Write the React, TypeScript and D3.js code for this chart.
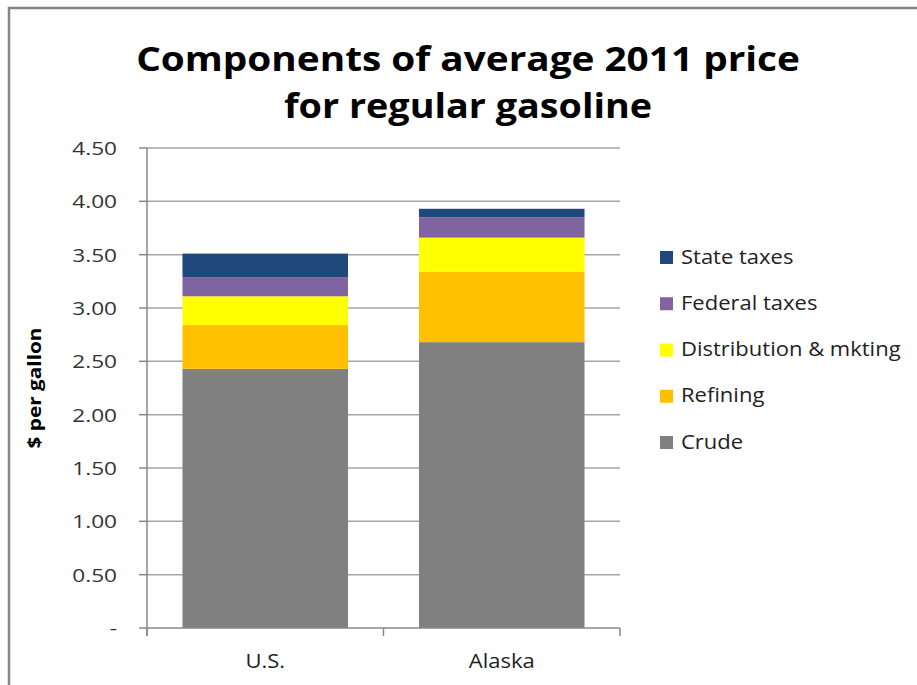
import React from "react";
import * as d3 from "d3";

const categories = ["U.S.", "Alaska"];
const seriesNames = ["Crude", "Refining", "Distribution & mkting", "Federal taxes", "State taxes"];
const crude = [2.43, 2.68];
const refining = [0.41, 0.66];
const distribution = [0.27, 0.32];
const federal = [0.18, 0.19];
const state = [0.22, 0.08];
const yTicks = [0, 0.5, 1, 1.5, 2, 2.5, 3, 3.5, 4, 4.5];
const colors = ["#808080", "#FFC000", "#FFFF00", "#8064A2", "#1F497D"];

export default function App() {
  const W = 917, H = 685;
  const left = 147, right = 620, top = 148, bottom = 628;
  const y = d3.scaleLinear().domain([0, 4.5]).range([bottom, top]);
  const x = d3.scaleBand().domain(categories).range([left, right]).paddingInner(0.3).paddingOuter(0.15);
  const band = d3.scaleBand().domain(categories).range([left, right]);
  const rows = categories.map((c, i) => ({
    cat: c,
    Crude: crude[i],
    Refining: refining[i],
    "Distribution & mkting": distribution[i],
    "Federal taxes": federal[i],
    "State taxes": state[i],
  }));
  const stack = d3.stack<any>().keys(seriesNames)(rows);
  const font = "Open Sans, Lato, sans-serif";
  const legendOrder = [...seriesNames].reverse();
  return (
    <svg width={W} height={H} style={{ position: "absolute", left: 0, top: 0 }} fontFamily={font}>
      <rect x={0} y={0} width={W} height={H} fill="#fff" />
      <path d={`M9,${H} V8 H${W}`} fill="none" stroke="#868686" strokeWidth={2.5} />
      <text transform="translate(468,71) scale(1.14,1)" textAnchor="middle" fontSize={34} fontWeight="bold" fill="#000">
        Components of average 2011 price
      </text>
      <text transform="translate(468,118) scale(1.11,1)" textAnchor="middle" fontSize={34} fontWeight="bold" fill="#000">
        for regular gasoline
      </text>
      {yTicks.map((t) => (
        <g key={t}>
          {t > 0 && <line x1={left} x2={right} y1={y(t)} y2={y(t)} stroke="#a6a6a6" strokeWidth={1.5} />}
          <line x1={left - 8} x2={left} y1={y(t)} y2={y(t)} stroke="#888" strokeWidth={1.5} />
          <text transform={`translate(117,${y(t) + 7}) scale(1.19,1)`} textAnchor="end" fontSize={19} fill="#333">
            {t === 0 ? "-" : d3.format(".2f")(t)}
          </text>
        </g>
      ))}
      {stack.map((s, si) =>
        s.map((d, di) => (
          <rect
            key={si + "-" + di}
            x={x(categories[di])}
            width={x.bandwidth()}
            y={y(d[1])}
            height={y(d[0]) - y(d[1])}
            fill={colors[si]}
          />
        ))
      )}
      <line x1={left} x2={left} y1={top} y2={bottom + 8} stroke="#888" strokeWidth={1.5} />
      <line x1={left} x2={right} y1={bottom} y2={bottom} stroke="#888" strokeWidth={1.5} />
      {[...categories.map((c) => band(c) as number), right].map((v, i) => (
        <line key={i} x1={v} x2={v} y1={bottom} y2={bottom + 8} stroke="#888" strokeWidth={1.5} />
      ))}
      {categories.map((c) => (
        <text key={c} transform={`translate(${(x(c) as number) + x.bandwidth() / 2},668) scale(1.1,1)`}
          textAnchor="middle" fontSize={20} fill="#222">
          {c}
        </text>
      ))}
      <text
        transform={`translate(41,${(top + bottom) / 2}) rotate(-90)`}
        textAnchor="middle"
        fontSize={18}
        fontWeight="bold"
        fill="#000"
        textLength={121}
        lengthAdjust="spacingAndGlyphs"
      >
        $ per gallon
      </text>
      {legendOrder.map((n, i) => {
        const cy = 257.5 + i * 46.25;
        return (
          <g key={n}>
            <rect x={660} y={cy - 6.5} width={13} height={13} fill={colors[seriesNames.indexOf(n)]} />
            <text transform={`translate(681,${cy + 6}) scale(1.1,1)`} fontSize={20} fill="#222">
              {n}
            </text>
          </g>
        );
      })}
    </svg>
  );
}
